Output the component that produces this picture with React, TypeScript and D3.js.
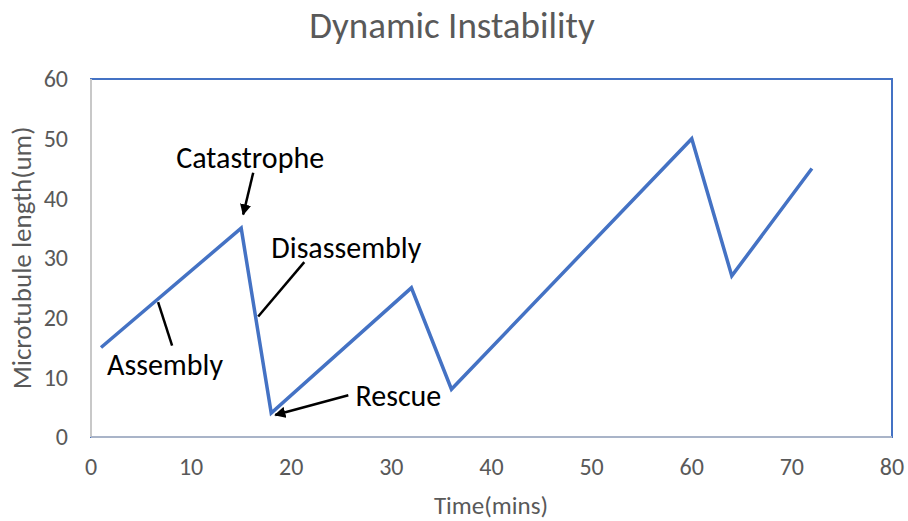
import React from "react";
import * as d3 from "d3";

const times = [1, 15, 18, 32, 36, 60, 64, 72];
const lengths = [15, 35, 4, 25, 8, 50, 27, 45];
const xTicks = [0, 10, 20, 30, 40, 50, 60, 70, 80];
const yTicks = [0, 10, 20, 30, 40, 50, 60];

// Callouts: label centre (data units) and pointer line from/to (data units)
const noteLabels = ["Catastrophe", "Disassembly", "Assembly", "Rescue"];
const noteText = [
  [15.9, 46.8],
  [25.5, 31.7],
  [7.4, 12.1],
  [30.7, 7.0],
];
const noteFrom = [
  [16.2, 44.3],
  [21.3, 29.3],
  [6.7, 22.6],
  [25.7, 7],
];
const noteTo = [
  [15.2, 37.3],
  [16.7, 20.2],
  [8.1, 15.3],
  [18.4, 3.7],
];
const noteArrow = [true, false, false, true];

const W = 908;
const H = 521;
const M = { left: 91, right: 16, top: 79, bottom: 84 };

export default function App() {
  const x = d3.scaleLinear().domain([0, 80]).range([M.left, W - M.right]);
  const y = d3.scaleLinear().domain([0, 60]).range([H - M.bottom, M.top]);
  const line = d3
    .line<number>()
    .x((_, i) => x(times[i]))
    .y((d) => y(d));
  const font = "Carlito, Calibri, Lato, 'Open Sans', sans-serif";
  const grey = "#595959";
  const blue = "#4472C4";

  return (
    <svg
      width={W}
      height={H}
      style={{ position: "absolute", left: 0, top: 0, background: "#fff" }}
      fontFamily={font}
    >
      <defs>
        <marker
          id="arrow"
          viewBox="0 0 10 10"
          refX="9"
          refY="5"
          markerWidth="4.5"
          markerHeight="4.5"
          orient="auto"
        >
          <path d="M0,0 L10,5 L0,10 z" fill="#000" />
        </marker>
      </defs>
      <text x={452} y={38} textAnchor="middle" fontSize={37} fill={grey}>
        Dynamic Instability
      </text>
      {/* plot frame */}
      <rect
        x={x(0)}
        y={y(60)}
        width={x(80) - x(0)}
        height={y(0) - y(60)}
        fill="none"
        stroke={blue}
        strokeWidth={2}
      />
      <line x1={x(0)} x2={x(0)} y1={y(60)} y2={y(0)} stroke="#c8c8c8" strokeWidth={2} />
      <line x1={x(0)} x2={x(80)} y1={y(0)} y2={y(0)} stroke="#a9b4c8" strokeWidth={2} />
      {yTicks.map((t) => (
        <text
          key={"y" + t}
          x={x(0) - 23}
          y={y(t)}
          dy="0.35em"
          textAnchor="end"
          fontSize={24}
          fill={grey}
        >
          {t}
        </text>
      ))}
      {xTicks.map((t) => (
        <text
          key={"x" + t}
          x={x(t)}
          y={y(0) + 38}
          textAnchor="middle"
          fontSize={24}
          fill={grey}
        >
          {t}
        </text>
      ))}
      <text x={491} y={514} textAnchor="middle" fontSize={25} fill={grey}>
        Time(mins)
      </text>
      <text
        transform={`translate(31,${258}) rotate(-90)`}
        textAnchor="middle"
        fontSize={27}
        fill={grey}
      >
        Microtubule length(um)
      </text>
      <path
        d={line(lengths) || ""}
        fill="none"
        stroke={blue}
        strokeWidth={3.5}
        strokeLinejoin="miter"
      />
      {noteLabels.map((label, i) => (
        <g key={label}>
          <line
            x1={x(noteFrom[i][0])}
            y1={y(noteFrom[i][1])}
            x2={x(noteTo[i][0])}
            y2={y(noteTo[i][1])}
            stroke="#000"
            strokeWidth={2.5}
            markerEnd={noteArrow[i] ? "url(#arrow)" : undefined}
          />
          <text
            x={x(noteText[i][0])}
            y={y(noteText[i][1])}
            dy="0.35em"
            textAnchor="middle"
            fontSize={30}
            fill="#000"
          >
            {label}
          </text>
        </g>
      ))}
    </svg>
  );
}
